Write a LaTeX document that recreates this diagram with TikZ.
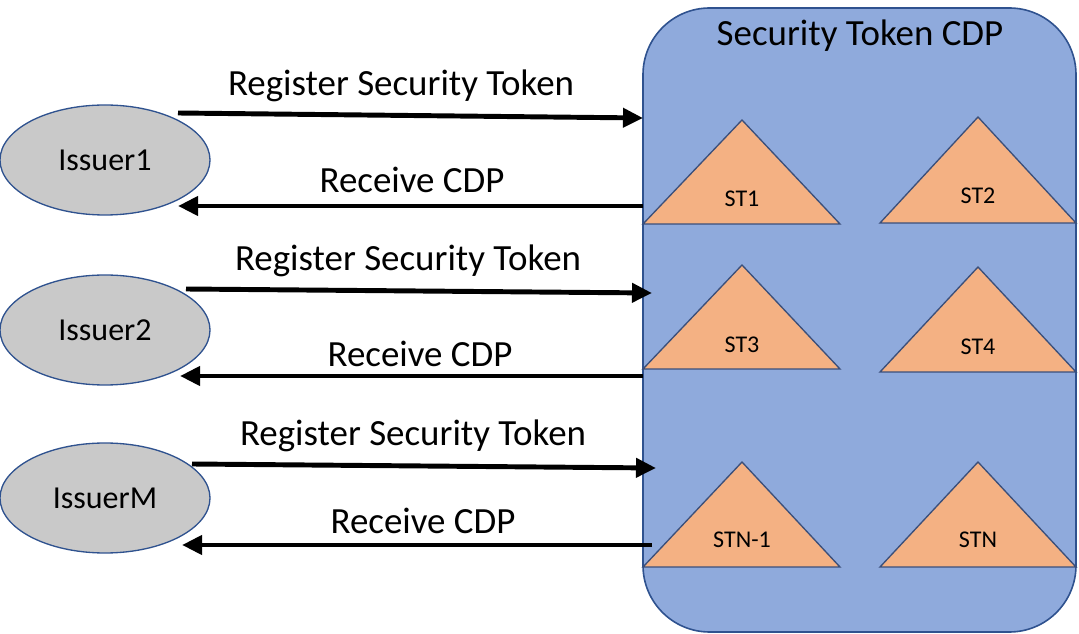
\documentclass[tikz,border=0pt]{standalone}
\usepackage{fontspec}
\setmainfont{Carlito}
\usetikzlibrary{shapes.geometric,arrows.meta}
\definecolor{boxfill}{HTML}{8FAADC}
\definecolor{boxline}{HTML}{2F528F}
\definecolor{trifill}{HTML}{F4B183}
\definecolor{triline}{HTML}{3B4F7A}
\definecolor{ellfill}{HTML}{C9C9C9}
\definecolor{ellline}{HTML}{2F528F}
\tikzset{
  issuer/.style={ellipse, draw=ellline, fill=ellfill, line width=1pt,
    minimum width=157.5pt, minimum height=82.5pt, inner sep=0pt,
    font=\fontsize{24}{27}\selectfont},
  lbl/.style={inner sep=0pt, font=\fontsize{27.7}{31}\selectfont},
  stlbl/.style={inner sep=0pt, font=\fontsize{18}{21}\selectfont},
  tri/.style={draw=triline, fill=trifill, line width=1pt, line join=miter},
  flow/.style={line width=3.7pt, -{Triangle[length=15pt,width=14pt]}},
}
\begin{document}
\begin{tikzpicture}[x=0.75pt,y=-0.75pt]
\useasboundingbox (0,0) rectangle (1079,634);
% container
\node[draw=boxline, fill=boxfill, line width=1.2pt, rounded corners=50pt,
  minimum width=324.75pt, minimum height=468pt, inner sep=0pt] (cdp) at (859.5,320) {};
\node[lbl] (cdpt) at (860,36) {Security Token CDP};
% triangles
\draw[tri] (643,224) -- (742,120) -- (840,224) -- cycle;
\draw[tri] (880,223) -- (978,117) -- (1076,223) -- cycle;
\draw[tri] (643,369) -- (742,265) -- (840,369) -- cycle;
\draw[tri] (880,372) -- (978,267) -- (1076,372) -- cycle;
\draw[tri] (643,567) -- (742,462) -- (840,567) -- cycle;
\draw[tri] (880,567) -- (978,462) -- (1076,567) -- cycle;
\node[stlbl] (st1) at (742,199) {ST1};
\node[stlbl] (st2) at (978,196) {ST2};
\node[stlbl] (st3) at (742,345) {ST3};
\node[stlbl] (st4) at (978,347) {ST4};
\node[stlbl] (stn1) at (742,540) {STN-1};
\node[stlbl] (stn) at (978,540) {STN};
% issuers
\node[issuer] (i1) at (105,160) {Issuer1};
\node[issuer] (i2) at (105,330) {Issuer2};
\node[issuer] (im) at (105,498) {IssuerM};
% arrow end points
\coordinate (r1s) at (178,113);
\coordinate (r1e) at (643,118);
\coordinate (c1s) at (643,206);
\coordinate (c1e) at (178,206);
\coordinate (r2s) at (186,289);
\coordinate (r2e) at (652,293);
\coordinate (c2s) at (643,376);
\coordinate (c2e) at (180,376);
\coordinate (rms) at (192,464);
\coordinate (rme) at (656,468);
\coordinate (cms) at (652,545);
\coordinate (cme) at (182,545);
% arrows
\draw[flow] (r1s) -- (r1e);
\draw[flow] (c1s) -- (c1e);
\draw[flow] (r2s) -- (r2e);
\draw[flow] (c2s) -- (c2e);
\draw[flow] (rms) -- (rme);
\draw[flow] (cms) -- (cme);
% labels
\node[lbl] (l1) at (401,86) {Register Security Token};
\node[lbl] (l2) at (412,180) {Receive CDP};
\node[lbl] (l3) at (408,261) {Register Security Token};
\node[lbl] (l4) at (420,354) {Receive CDP};
\node[lbl] (l5) at (413,436) {Register Security Token};
\node[lbl] (l6) at (423,521) {Receive CDP};
\end{tikzpicture}
\end{document}
